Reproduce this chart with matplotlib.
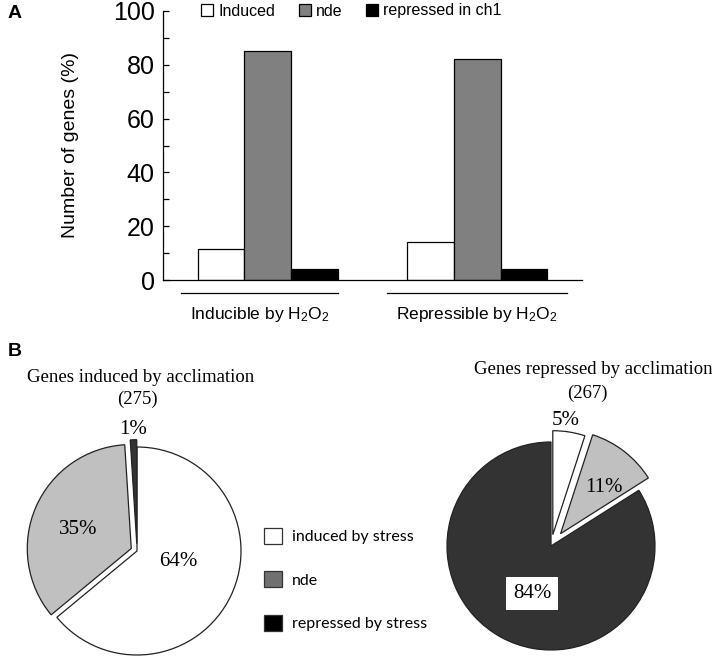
import matplotlib
matplotlib.use('Agg')
from matplotlib import pyplot, rc
from matplotlib.patches import Patch
from matplotlib.transforms import blended_transform_factory

rc('font', family='Liberation Sans', size=11)
rc('mathtext', default='regular')

# panel A
groups = ['Inducible by H$_2$O$_2$', 'Repressible by H$_2$O$_2$']
bar_series = ['Induced', 'nde', 'repressed in ch1']
induced = [11.4, 14.2]
nde = [85.2, 82.2]
repressed_ch1 = [4.2, 4.2]

# panel B
pie_labels = ['induced by stress', 'nde', 'repressed by stress']
pie_induced_title = 'Genes induced by acclimation'
pie_induced_n = 275
pie_induced = [64, 35, 1]
pie_repressed_title = 'Genes repressed by acclimation'
pie_repressed_n = 267
pie_repressed = [5, 11, 84]

W, H = 712, 659


def fx(x):
    return x / W


def fy(y):
    return 1 - y / H


figure = pyplot.figure(figsize=(W / 100, H / 100), dpi=100)

# ---------- A: grouped bars ----------
plot = figure.add_axes([fx(163), fy(280), fx(582) - fx(163), fy(11) - fy(280)])
w = 0.222
bar_colors = ['white', '#808080', 'black']
for k, (vals, c, lab) in enumerate(zip([induced, nde, repressed_ch1],
                                      bar_colors, bar_series)):
    xs = [g + (k - 1) * w for g in range(len(groups))]
    plot.bar(xs, vals, w, color=c, edgecolor='black', linewidth=0.9, label=lab)
plot.set_xlim(-0.5, 1.5)
plot.set_ylim(0, 100)
plot.set_yticks(range(0, 101, 20))
plot.set_yticks(range(10, 100, 20), minor=True)
plot.tick_params(axis='y', which='both', direction='in', length=4,
                 width=0.9, labelsize=18, pad=6)
plot.set_xticks([])
for s in ('top', 'right'):
    plot.spines[s].set_visible(False)
for s in ('left', 'bottom'):
    plot.spines[s].set_linewidth(0.9)
plot.set_ylabel('Number of genes (%)', fontsize=14, labelpad=24)

# group underlines and names
trans = blended_transform_factory(plot.transData, plot.transAxes)
underline = [(-0.414, 0.333), (-0.433, 0.43)]
for g, name in enumerate(groups):
    lo, hi = g + underline[g][0], g + underline[g][1]
    plot.plot([lo, hi], [-0.048, -0.048], color='black', lw=0.9,
              transform=trans, clip_on=False)
    plot.text((lo + hi) / 2, -0.128, name, transform=trans, ha='center',
              va='center', fontsize=12.5)

plot.legend(loc='center', bbox_to_anchor=(0.45, 1.0), ncol=3, frameon=False,
            handlelength=0.75, handleheight=0.75, handletextpad=0.3,
            columnspacing=1.5, fontsize=11.5, borderaxespad=0)

figure.text(fx(8), fy(14), 'A', fontsize=14, fontweight='bold', va='center')
figure.text(fx(8), fy(352), 'B', fontsize=14, fontweight='bold', va='center')

# ---------- B: pies ----------
pie_colors = ['white', '#c0c0c0', '#333333']
R = 104
span = 1.45


def draw_pie(cx, cy, values, explode, label_pos, boxed):
    ax = figure.add_axes([fx(cx - span * R), fy(cy + span * R),
                          2 * span * R / W, 2 * span * R / H])
    ax.pie(values, colors=pie_colors, startangle=90, counterclock=False,
           explode=explode,
           wedgeprops=dict(edgecolor='#222222', linewidth=0.9))
    ax.set_xlim(-span, span)
    ax.set_ylim(-span, span)
    ax.axis('off')
    for v, (tx, ty), b in zip(values, label_pos, boxed):
        bbox = dict(facecolor='white', edgecolor='none', pad=5) if b else None
        ax.text(tx, ty, '{}%'.format(v), ha='center', va='center',
                fontsize=15, family='Liberation Serif', bbox=bbox)
    return ax


draw_pie(137, 551, pie_induced, [0, 0.06, 0.07],
         [(0.40, -0.10), (-0.57, 0.21), (-0.04, 1.17)], [False] * 3)
draw_pie(551, 546, pie_repressed, [0.11, 0.15, 0],
         [(0.14, 1.21), (0.51, 0.56), (-0.18, -0.46)], [False, False, True])

serif = dict(family='Liberation Serif', fontsize=13.5, ha='center', va='center')
figure.text(fx(141), fy(377), pie_induced_title, **serif)
figure.text(fx(137), fy(399), '({})'.format(pie_induced_n), **serif)
figure.text(fx(593), fy(370), pie_repressed_title, **serif)
figure.text(fx(587), fy(393), '({})'.format(pie_repressed_n), **serif)

handles = [Patch(facecolor=c, edgecolor='#333333', linewidth=0.9)
           for c in ['white', '#707070', 'black']]
figure.legend(handles, pie_labels, loc='upper left',
              bbox_to_anchor=(fx(264), fy(528)), frameon=False,
              handlelength=1.15, handleheight=1.15,
              handletextpad=0.6, labelspacing=1.7, borderaxespad=0,
              borderpad=0, prop={'family': 'Lato', 'size': 11.5})

figure.savefig('out.png', dpi=100)
